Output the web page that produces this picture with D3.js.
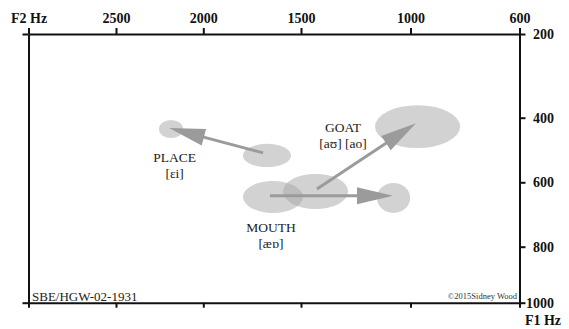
<!DOCTYPE html>
<html><head><meta charset="utf-8">
<script src="https://cdn.jsdelivr.net/npm/d3@7"></script>
<style>
body{margin:0;background:#fff;}
svg{display:block;}
</style></head><body>
<svg id="chart" width="569" height="329"></svg>
<script>
// ---- data ----
const f2Ticks = [3000, 2500, 2000, 1500, 1000, 600];
const f2Labels = ["", "2500", "2000", "1500", "1000", "600"];
const f1Ticks = [200, 400, 600, 800, 1000];
const f1Labels = ["200", "400", "600", "800", "1000"];

// ellipses: F2 range (Hz) and F1 range (Hz)
const ellipseNames = ["PLACE-end", "PLACE-start", "MOUTH-start", "GOAT-start", "MOUTH-end", "GOAT-end"];
const ellipseF2Lo = [2116, 1551, 1491, 1285, 1002, 818];
const ellipseF2Hi = [2254, 1797, 1797, 1592, 1153, 1162];
const ellipseF1Lo = [407, 481, 596, 574, 602, 370];
const ellipseF1Hi = [463, 553, 695, 683, 695, 494];

// arrows (F2, F1) from -> to
const arrowNames = ["PLACE", "MOUTH", "GOAT"];
const arrowF2From = [1694, 1659, 1427];
const arrowF1From = [509, 642, 621];
const arrowF2To = [2196, 1080, 980];
const arrowF1To = [432, 642, 417];

// labels
const labelLine1 = ["PLACE", "MOUTH", "GOAT"];
const labelLine2 = ["[ɛi]", "[æɒ]", "[aʊ] [ao]"];
const labelF2 = [2164, 1654, 1308];
const labelF1 = [536, 753, 443];

const sourceText = "SBE/HGW-02-1931";
const creditText = "©2015Sidney Wood";

// ---- drawing ----
const svg = d3.select("#chart");
const x = d3.scaleLinear().domain(f2Ticks).range([28.5, 116, 203.3, 301, 410.5, 519.5]);
const y = d3.scaleLinear().domain(f1Ticks).range([34, 117.7, 182.3, 246.7, 302.7]);

const serif = "'Liberation Serif','Times New Roman',serif";

// ellipses
const ell = ellipseNames.map((n, i) => ({
  cx: (x(ellipseF2Lo[i]) + x(ellipseF2Hi[i])) / 2,
  cy: (y(ellipseF1Lo[i]) + y(ellipseF1Hi[i])) / 2,
  rx: Math.abs(x(ellipseF2Lo[i]) - x(ellipseF2Hi[i])) / 2,
  ry: Math.abs(y(ellipseF1Lo[i]) - y(ellipseF1Hi[i])) / 2
}));
svg.append("g").selectAll("ellipse").data(ell).join("ellipse")
  .attr("cx", d => d.cx).attr("cy", d => d.cy)
  .attr("rx", d => d.rx).attr("ry", d => d.ry)
  .attr("fill", "#a5a5a5").attr("fill-opacity", 0.5);

// arrows
const headLen = 36, headHalf = 8.5;
const arrows = arrowNames.map((n, i) => {
  const x0 = x(arrowF2From[i]), y0 = y(arrowF1From[i]);
  const x1 = x(arrowF2To[i]), y1 = y(arrowF1To[i]);
  const dx = x1 - x0, dy = y1 - y0, L = Math.hypot(dx, dy);
  const ux = dx / L, uy = dy / L;
  const bx = x1 - ux * headLen, by = y1 - uy * headLen;
  return {x0, y0, bx, by, x1, y1,
    head: [[x1, y1], [bx - uy * headHalf, by + ux * headHalf], [bx + uy * headHalf, by - ux * headHalf]]};
});
const ag = svg.append("g");
ag.selectAll("line").data(arrows).join("line")
  .attr("x1", d => d.x0).attr("y1", d => d.y0)
  .attr("x2", d => d.bx + (d.x1 - d.bx) * 0.2).attr("y2", d => d.by + (d.y1 - d.by) * 0.2)
  .attr("stroke", "#9b9b9b").attr("stroke-width", 3);
ag.selectAll("polygon").data(arrows).join("polygon")
  .attr("points", d => d.head.map(p => p.join(",")).join(" "))
  .attr("fill", "#9b9b9b");

// labels
const lg = svg.append("g").attr("font-family", serif).attr("font-size", 13.5)
  .attr("fill", "#222").attr("text-anchor", "middle");
labelLine1.forEach((t, i) => {
  const tx = lg.append("text").attr("x", x(labelF2[i])).attr("y", y(labelF1[i]));
  tx.append("tspan").attr("x", x(labelF2[i])).text(t);
  tx.append("tspan").attr("x", x(labelF2[i])).attr("dy", 16.5).text(labelLine2[i]);
});

// axes
function styleAxis(g) {
  g.selectAll(".domain").attr("stroke", "#111").attr("stroke-width", 2);
  g.selectAll(".tick line").attr("stroke", "#111").attr("stroke-width", 2);
  g.selectAll("text").attr("font-family", serif).attr("font-size", 14)
    .attr("font-weight", "bold").attr("fill", "#111");
}
const [x0, x1] = [x(3000), x(600)];
const [y0, y1] = [y(200), y(1000)];

svg.append("g").attr("transform", `translate(0,${y0})`)
  .call(d3.axisTop(x).tickValues(f2Ticks).tickFormat((d, i) => f2Labels[i])
    .tickSize(6).tickSizeOuter(0).tickPadding(5))
  .call(styleAxis);
svg.append("g").attr("transform", `translate(0,${y1})`)
  .call(d3.axisBottom(x).tickValues(f2Ticks).tickFormat("")
    .tickSize(5).tickSizeOuter(0))
  .call(styleAxis);
svg.append("g").attr("transform", `translate(${x1},0)`)
  .call(d3.axisRight(y).tickValues(f1Ticks).tickFormat((d, i) => f1Labels[i])
    .tickSize(6).tickSizeOuter(0))
  .call(styleAxis)
  .call(g => g.selectAll("text").attr("text-anchor", "end").attr("x", 34.5));
svg.append("g").attr("transform", `translate(${x0},0)`)
  .call(d3.axisLeft(y).tickValues([f1Ticks[0], f1Ticks[f1Ticks.length - 1]]).tickFormat("")
    .tickSize(6).tickSizeOuter(0))
  .call(styleAxis);

// axis titles
svg.append("text").attr("x", 11).attr("y", y0 - 11).text("F2 Hz")
  .attr("font-family", serif).attr("font-size", 14).attr("font-weight", "bold").attr("fill", "#111");
svg.append("text").attr("x", 543).attr("y", 325).attr("text-anchor", "middle").text("F1 Hz")
  .attr("font-family", serif).attr("font-size", 14).attr("font-weight", "bold").attr("fill", "#111");

// source & credit
svg.append("text").attr("x", 32).attr("y", 301).text(sourceText)
  .attr("font-family", serif).attr("font-size", 13).attr("fill", "#222");
svg.append("text").attr("x", 517).attr("y", 299).attr("text-anchor", "end").text(creditText)
  .attr("font-family", serif).attr("font-size", 8.5).attr("fill", "#333");
</script>
</body></html>
